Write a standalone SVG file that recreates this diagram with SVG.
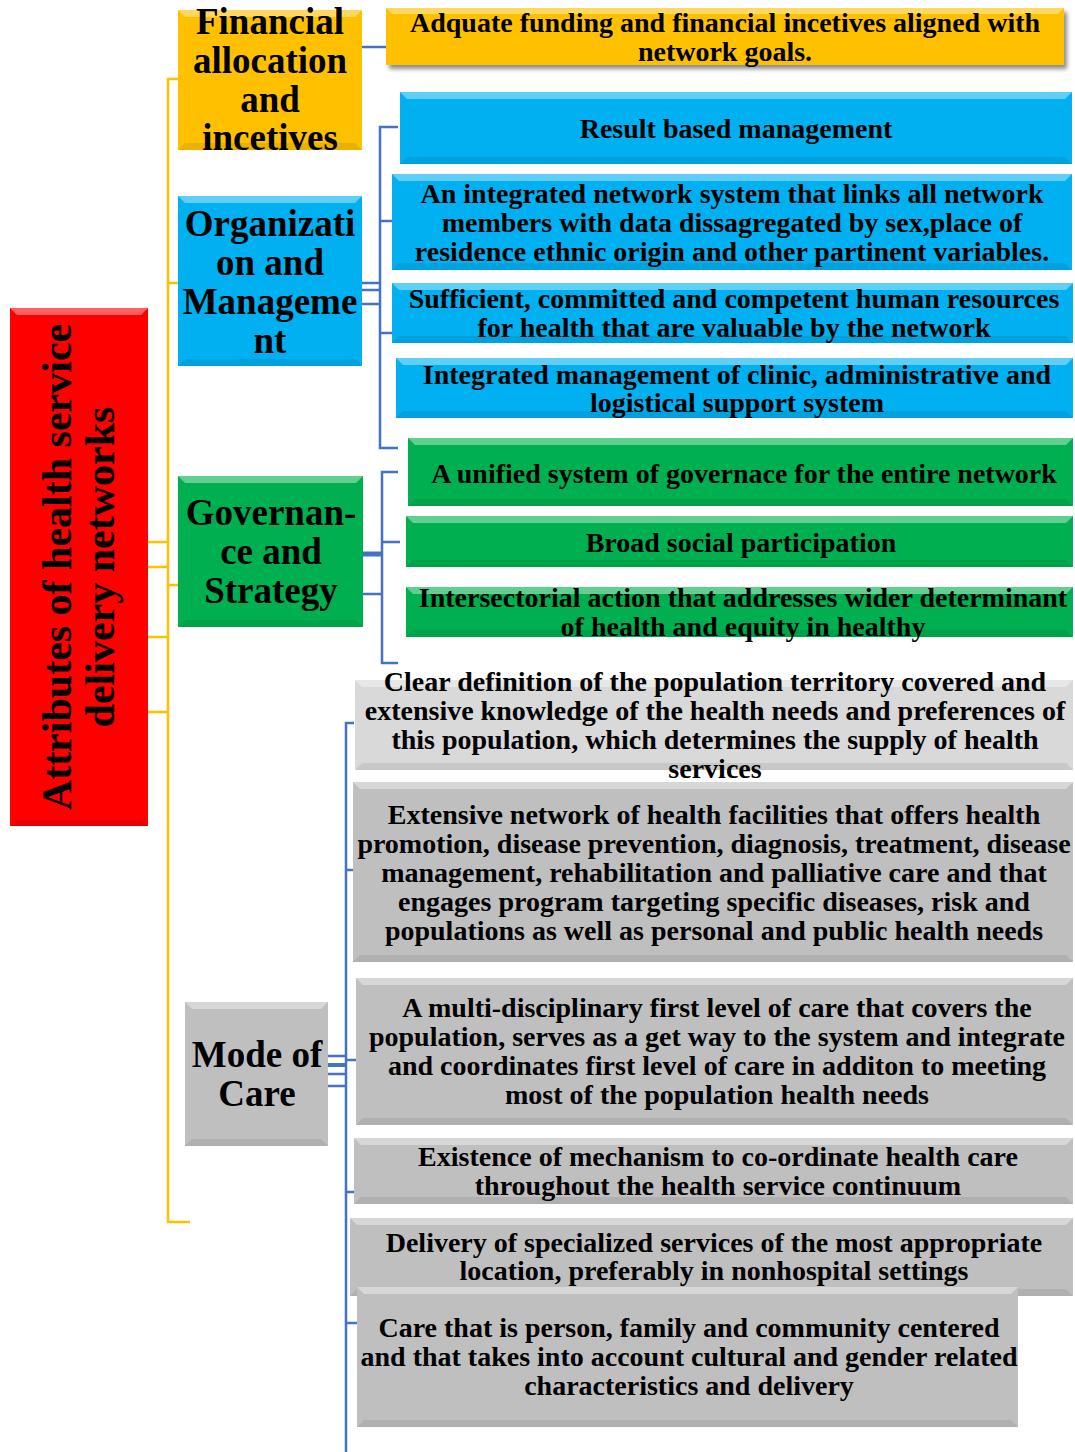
<svg xmlns="http://www.w3.org/2000/svg" width="1075" height="1452" viewBox="0 0 1075 1452">
<style>
text{font-family:"Liberation Serif","Times New Roman",serif;font-weight:bold;fill:#000;text-anchor:middle}
.t{font-size:28px}
.c{font-size:37px}
.r{font-size:42px}
.red{fill:#FF0000}
.amb{fill:#FFC000}
.blu{fill:#00B0F0}
.grn{fill:#00B050}
.gry{fill:#BFBFBF}
.lgy{fill:#D9D9D9}
.hl{fill:#FFFFFF;fill-opacity:0.38}
.sh{fill:#000000;fill-opacity:0.08}
.bl{fill:none;stroke:#4472C4;stroke-width:2.5}
.yl{fill:none;stroke:#FFC000;stroke-width:2.5}
</style>
<defs>
<filter id="ds" x="-5%" y="-30%" width="110%" height="170%">
<feDropShadow dx="3" dy="4" stdDeviation="2" flood-color="#000" flood-opacity="0.45"/>
</filter>
</defs>
<rect width="1075" height="1452" fill="#FFFFFF"/>

<g id="connectors">
<path class="yl" d="M178,79 H168 V1222 H190 M168,283 H178 M168,585 H178 M148,542 H168 M148,567 H168 M148,637 H168 M148,712 H168"/>
<path class="bl" d="M362,47 H386"/>
<path class="bl" d="M398,127 H380 V448 H398 M380,221 H392 M380,333 H392 M362,283 H380 M362,290 H380 M362,304 H380"/>
<path class="bl" d="M398,472 H382 V663 H398 M382,542 H400 M363,594 H382"/>
<path class="bl" style="stroke-width:5" d="M363,554 H382"/>
<path class="bl" d="M354,723 H346 V1452 M346,870 H353 M346,1060 H356 M346,1192 H354 M346,1323 H357 M328,1056 H346 M328,1074 H346 M328,1086 H346"/>
<path class="bl" style="stroke-width:4" d="M328,1065 H346"/>
</g>

<g id="root">
<rect class="red" x="10" y="308" width="138" height="518"/>
<polygon class="hl" points="10,308 148,308 141,315 17,315"/>
<polygon class="sh" points="10,826 148,826 141,819 17,819"/>
<text class="r" transform="translate(71,567) rotate(-90)">Attributes of health service</text>
<text class="r" transform="translate(114,567) rotate(-90)">delivery networks</text>
</g>

<g id="financial">
<rect class="amb" x="178" y="10" width="184" height="140"/>
<polygon class="hl" points="178,10 362,10 355,17 185,17"/>
<polygon class="sh" points="178,150 362,150 355,143 185,143"/>
<text class="c" x="270" y="34">Financial</text>
<text class="c" x="270" y="73">allocation</text>
<text class="c" x="270" y="112">and</text>
<text class="c" x="270" y="150">incetives</text>
</g>

<g id="financial-1">
<rect class="amb" x="386" y="8" width="678" height="57" filter="url(#ds)"/>
<polygon class="hl" points="386,8 1064,8 1058,14 392,14"/>
<text class="t" x="725" y="32">Adquate funding and financial incetives aligned with</text>
<text class="t" x="725" y="61">network goals.</text>
</g>

<g id="organization">
<rect class="blu" x="178" y="196" width="184" height="170"/>
<polygon class="hl" points="178,196 362,196 355,203 185,203"/>
<polygon class="sh" points="178,366 362,366 355,359 185,359"/>
<text class="c" x="270" y="236">Organizati</text>
<text class="c" x="270" y="275">on and</text>
<text class="c" x="270" y="314">Manageme</text>
<text class="c" x="270" y="353">nt</text>
</g>

<g id="org-1">
<rect class="blu" x="400" y="92" width="672" height="72"/>
<polygon class="hl" points="400,92 1072,92 1065,99 407,99"/>
<polygon class="sh" points="400,164 1072,164 1065,157 407,157"/>
<text class="t" x="736" y="138">Result based management</text>
</g>

<g id="org-2">
<rect class="blu" x="392" y="174" width="680" height="96"/>
<polygon class="hl" points="392,174 1072,174 1065,181 399,181"/>
<polygon class="sh" points="392,270 1072,270 1065,263 399,263"/>
<text class="t" x="732" y="203">An integrated network system that links all network</text>
<text class="t" x="732" y="232">members with data dissagregated by sex,place of</text>
<text class="t" x="732" y="261">residence ethnic origin and other partinent variables.</text>
</g>

<g id="org-3">
<rect class="blu" x="392" y="283" width="681" height="60"/>
<polygon class="hl" points="392,283 1073,283 1066,290 399,290"/>
<polygon class="sh" points="392,343 1073,343 1066,336 399,336"/>
<text class="t" x="734" y="308">Sufficient, committed and competent human resources</text>
<text class="t" x="734" y="337">for health that are valuable by the network</text>
</g>

<g id="org-4">
<rect class="blu" x="396" y="358" width="677" height="60"/>
<polygon class="hl" points="396,358 1073,358 1066,365 403,365"/>
<polygon class="sh" points="396,418 1073,418 1066,411 403,411"/>
<text class="t" x="737" y="384">Integrated management of clinic, administrative and</text>
<text class="t" x="737" y="412">logistical support system</text>
</g>

<g id="governance">
<rect class="grn" x="178" y="476" width="185" height="151"/>
<polygon class="hl" points="178,476 363,476 356,483 185,483"/>
<polygon class="sh" points="178,627 363,627 356,620 185,620"/>
<text class="c" x="271" y="525">Governan-</text>
<text class="c" x="271" y="564">ce and</text>
<text class="c" x="271" y="603">Strategy</text>
</g>

<g id="gov-1">
<rect class="grn" x="408" y="438" width="665" height="68"/>
<polygon class="hl" points="408,438 1073,438 1066,445 415,445"/>
<polygon class="sh" points="408,506 1073,506 1066,499 415,499"/>
<text class="t" x="744" y="483">A unified system of governace for the entire network</text>
</g>

<g id="gov-2">
<rect class="grn" x="406" y="516" width="667" height="51"/>
<polygon class="hl" points="406,516 1073,516 1066,523 413,523"/>
<polygon class="sh" points="406,567 1073,567 1066,560 413,560"/>
<text class="t" x="741" y="552">Broad social participation</text>
</g>

<g id="gov-3">
<rect class="grn" x="406" y="587" width="667" height="50"/>
<polygon class="hl" points="406,587 1073,587 1066,594 413,594"/>
<polygon class="sh" points="406,637 1073,637 1066,630 413,630"/>
<text class="t" x="743" y="607">Intersectorial action that addresses wider determinant</text>
<text class="t" x="743" y="636">of health and equity in healthy</text>
</g>

<g id="mode">
<rect class="gry" x="185" y="1002" width="143" height="144"/>
<polygon class="hl" points="185,1002 328,1002 321,1009 192,1009"/>
<polygon class="sh" points="185,1146 328,1146 321,1139 192,1139"/>
<text class="c" x="257" y="1067">Mode of</text>
<text class="c" x="257" y="1106">Care</text>
</g>

<g id="mode-1">
<rect class="lgy" x="355" y="680" width="718" height="90"/>
<polygon class="hl" points="355,680 1073,680 1066,687 362,687"/>
<polygon class="sh" points="355,770 1073,770 1066,763 362,763"/>
<text class="t" x="715" y="691">Clear definition of the population territory covered and</text>
<text class="t" x="715" y="720">extensive knowledge of the health needs and preferences of</text>
<text class="t" x="715" y="749">this population, which determines the supply of health</text>
<text class="t" x="715" y="778">services</text>
</g>

<g id="mode-2">
<rect class="gry" x="353" y="782" width="720" height="180"/>
<polygon class="hl" points="353,782 1073,782 1066,789 360,789"/>
<polygon class="sh" points="353,962 1073,962 1066,955 360,955"/>
<text class="t" x="714" y="824">Extensive network of health facilities that offers health</text>
<text class="t" x="714" y="853">promotion, disease prevention, diagnosis, treatment, disease</text>
<text class="t" x="714" y="882">management, rehabilitation and palliative care and that</text>
<text class="t" x="714" y="911">engages program targeting specific diseases, risk and</text>
<text class="t" x="714" y="940">populations as well as personal and public health needs</text>
</g>

<g id="mode-3">
<rect class="gry" x="356" y="978" width="717" height="147"/>
<polygon class="hl" points="356,978 1073,978 1066,985 363,985"/>
<polygon class="sh" points="356,1125 1073,1125 1066,1118 363,1118"/>
<text class="t" x="717" y="1017">A multi-disciplinary first level of care that covers the</text>
<text class="t" x="717" y="1046">population, serves as a get way to the system and integrate</text>
<text class="t" x="717" y="1075">and coordinates first level of care in additon to meeting</text>
<text class="t" x="717" y="1104">most of the population health needs</text>
</g>

<g id="mode-4">
<rect class="gry" x="354" y="1138" width="719" height="66"/>
<polygon class="hl" points="354,1138 1073,1138 1066,1145 361,1145"/>
<polygon class="sh" points="354,1204 1073,1204 1066,1197 361,1197"/>
<text class="t" x="718" y="1166">Existence of mechanism to co-ordinate health care</text>
<text class="t" x="718" y="1195">throughout the health service continuum</text>
</g>

<g id="mode-5">
<rect class="gry" x="350" y="1218" width="723" height="78"/>
<polygon class="hl" points="350,1218 1073,1218 1066,1225 357,1225"/>
<polygon class="sh" points="350,1296 1073,1296 1066,1289 357,1289"/>
<text class="t" x="714" y="1252">Delivery of specialized services of the most appropriate</text>
<text class="t" x="714" y="1280">location, preferably in nonhospital settings</text>
</g>

<g id="mode-6">
<rect class="gry" x="357" y="1287" width="661" height="140"/>
<polygon class="hl" points="357,1287 1018,1287 1011,1294 364,1294"/>
<polygon class="sh" points="357,1427 1018,1427 1011,1420 364,1420"/>
<text class="t" x="689" y="1337">Care that is person, family and community centered</text>
<text class="t" x="689" y="1366">and that takes into account cultural and gender related</text>
<text class="t" x="689" y="1395">characteristics and delivery</text>
</g>
</svg>
